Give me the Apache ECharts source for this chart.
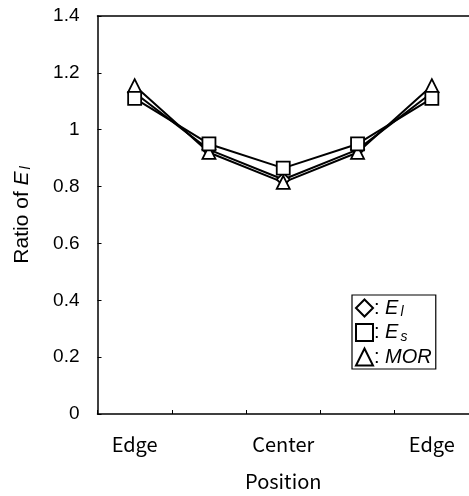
<!DOCTYPE html>
<html>
<head>
<meta charset="utf-8">
<script src="https://cdn.jsdelivr.net/npm/echarts@6/dist/echarts.min.js"></script>
<style>
  html, body { margin: 0; padding: 0; background: #fff; }
  #chart { width: 469px; height: 496px; }
</style>
</head>
<body>
<div id="chart"></div>
<script>
// positions across the board, labels only at edges and centre
var positions = ['Edge', '', 'Center', '', 'Edge'];
var yTicks = [0, 0.2, 0.4, 0.6, 0.8, 1, 1.2, 1.4];

// ratio values
var ratioEl = [1.13, 0.93, 0.825, 0.93, 1.13];
var ratioEs = [1.11, 0.95, 0.865, 0.95, 1.11];
var ratioMOR = [1.155, 0.92, 0.815, 0.92, 1.155];

var chart = echarts.init(document.getElementById('chart'));

function mkSeries(name, data, symbol) {
  return {
    name: name,
    type: 'line',
    data: data,
    symbol: symbol,
    symbolSize: 13,
    lineStyle: { color: '#000', width: 2 },
    itemStyle: { color: '#fff', borderColor: '#000', borderWidth: 1.8 },
    emphasis: { disabled: true },
    animation: false
  };
}

var legendText = {
  El: ': {i|E}{s|l}',
  Es: ': {i|E}{s|s}',
  MOR: ': {i|MOR}'
};

chart.setOption({
  backgroundColor: '#fff',
  grid: { left: 97.5, right: -3.5, top: 16, bottom: 81 },
  legend: {
    orient: 'vertical',
    left: 352,
    top: 295,
    padding: [3, 4, 2, 3],
    itemGap: 3,
    itemWidth: 17,
    itemHeight: 17,
    borderColor: '#000',
    borderWidth: 1.2,
    selectedMode: false,
    data: [
      { name: 'El', icon: 'diamond' },
      { name: 'Es', icon: 'rect' },
      { name: 'MOR', icon: 'triangle' }
    ],
    formatter: function (n) { return legendText[n]; },
    textStyle: {
      fontFamily: 'Liberation Sans',
      fontSize: 20,
      color: '#000',
      width: 80,
      padding: [0, 0, 0, -4],
      rich: {
        i: { fontFamily: 'Liberation Sans', fontSize: 20, fontStyle: 'italic', color: '#000' },
        s: { fontFamily: 'Liberation Sans', fontSize: 14, fontStyle: 'italic', color: '#000', padding: [9, 0, 0, 2] }
      }
    }
  },
  xAxis: [{
    type: 'category',
    data: positions,
    boundaryGap: true,
    name: 'Position',
    nameLocation: 'middle',
    nameGap: 57,
    nameTextStyle: { fontFamily: 'Noto Sans CJK JP', fontSize: 20, color: '#000' },
    axisLine: { lineStyle: { color: '#000', width: 1.5 } },
    axisTick: { show: true, inside: true, length: 4, alignWithLabel: false, lineStyle: { color: '#000' } },
    axisLabel: { fontFamily: 'Noto Sans CJK JP', fontSize: 20, color: '#000', margin: 20, interval: 0 },
    splitLine: { show: false }
  }, {
    type: 'category',
    data: positions,
    position: 'top',
    axisLine: { lineStyle: { color: '#000', width: 1.5 } },
    axisTick: { show: false },
    axisLabel: { show: false },
    splitLine: { show: false }
  }],
  yAxis: {
    type: 'value',
    min: yTicks[0],
    max: yTicks[yTicks.length - 1],
    interval: 0.2,
    name: '{t|Ratio of }{i|E}{s|l}',
    nameLocation: 'middle',
    nameGap: 64,
    nameTextStyle: {
      rich: {
        t: { fontFamily: 'Liberation Sans', fontSize: 21, color: '#000' },
        i: { fontFamily: 'Liberation Sans', fontSize: 21, fontStyle: 'italic', color: '#000' },
        s: { fontFamily: 'Liberation Sans', fontSize: 14, fontStyle: 'italic', color: '#000', padding: [9, 0, 0, 2] }
      }
    },
    axisLine: { show: true, lineStyle: { color: '#000', width: 1.5 } },
    axisTick: { show: true, inside: true, length: 4, lineStyle: { color: '#000' } },
    axisLabel: { fontFamily: 'Liberation Sans', fontSize: 19, color: '#000', margin: 18 },
    splitLine: { show: false }
  },
  series: [
    mkSeries('El', ratioEl, 'diamond'),
    mkSeries('MOR', ratioMOR, 'triangle'),
    mkSeries('Es', ratioEs, 'rect')
  ]
});
</script>
</body>
</html>
